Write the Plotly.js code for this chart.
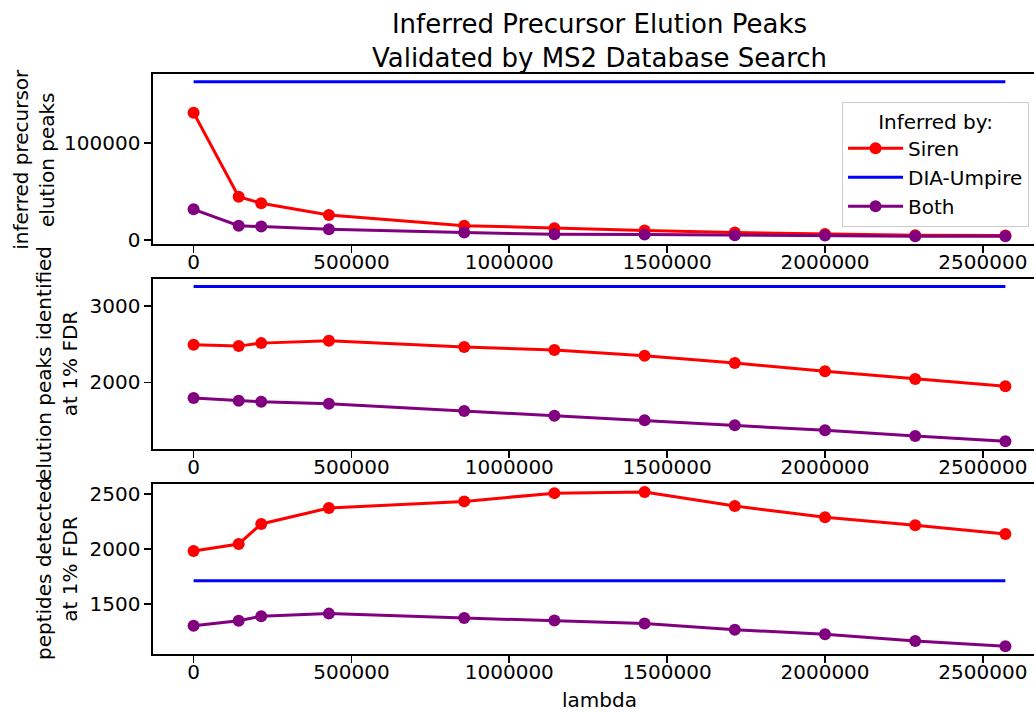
<!DOCTYPE html>
<html>
<head>
<meta charset="utf-8">
<script src="https://cdn.plot.ly/plotly-3.0.1.min.js"></script>
<style>
html, body { margin: 0; padding: 0; overflow: hidden; background: #fff; }
#chart { width: 1048px; height: 712px; }
</style>
</head>
<body>
<div id="chart"></div>
<script>
// ---- data ----
const lambda = [0, 142857, 214286, 428571, 857143, 1142857, 1428571, 1714286, 2000000, 2285714, 2571429];

const sirenPeaks  = [131600, 44800, 37900, 25900, 14800, 12100, 9800, 7600, 6200, 4800, 4500];
const umpirePeaks = [163700, 163700, 163700, 163700, 163700, 163700, 163700, 163700, 163700, 163700, 163700];
const bothPeaks   = [31700, 14800, 13800, 11000, 7600, 5900, 5500, 4800, 4500, 3800, 3800];

const sirenIdentified  = [2492, 2474, 2513, 2544, 2461, 2422, 2348, 2253, 2144, 2044, 1948];
const umpireIdentified = [3252, 3252, 3252, 3252, 3252, 3252, 3252, 3252, 3252, 3252, 3252];
const bothIdentified   = [1795, 1760, 1747, 1721, 1625, 1564, 1503, 1438, 1373, 1299, 1229];

const sirenPeptides  = [1982, 2045, 2227, 2372, 2432, 2507, 2518, 2390, 2287, 2215, 2136];
const umpirePeptides = [1710, 1710, 1710, 1710, 1710, 1710, 1710, 1710, 1710, 1710, 1710];
const bothPeptides   = [1302, 1347, 1388, 1412, 1372, 1350, 1322, 1266, 1224, 1164, 1115];

const seriesNames = ['Siren', 'DIA-Umpire', 'Both'];
const yLabels = ['inferred precursor<br>elution peaks', 'elution peaks identified<br>at 1% FDR', 'peptides detected<br>at 1% FDR'];
const chartTitle = 'Inferred Precursor Elution Peaks<br>Validated by MS2 Database Search';
const xLabel = 'lambda';

// ---- styling ----
const colors = { Siren: '#ff0000', 'DIA-Umpire': '#0000ff', Both: '#800080' };
const font = { family: 'DejaVu Sans, sans-serif', size: 20, color: '#000' };

const panels = [
  { s: sirenPeaks, u: umpirePeaks, b: bothPeaks, xa: 'x', ya: 'y' },
  { s: sirenIdentified, u: umpireIdentified, b: bothIdentified, xa: 'x2', ya: 'y2' },
  { s: sirenPeptides, u: umpirePeptides, b: bothPeptides, xa: 'x3', ya: 'y3' }
];

const traces = [];
panels.forEach((p, i) => {
  const first = i === 0;
  traces.push({ x: lambda, y: p.s, name: seriesNames[0], type: 'scatter', mode: 'lines+markers',
    line: { color: colors.Siren, width: 3 }, marker: { color: colors.Siren, size: 12 },
    xaxis: p.xa, yaxis: p.ya, showlegend: first, legendgroup: 'siren' });
  traces.push({ x: lambda, y: p.u, name: seriesNames[1], type: 'scatter', mode: 'lines',
    line: { color: colors['DIA-Umpire'], width: 3 },
    xaxis: p.xa, yaxis: p.ya, showlegend: first, legendgroup: 'umpire' });
  traces.push({ x: lambda, y: p.b, name: seriesNames[2], type: 'scatter', mode: 'lines+markers',
    line: { color: colors.Both, width: 3 }, marker: { color: colors.Both, size: 12 },
    xaxis: p.xa, yaxis: p.ya, showlegend: first, legendgroup: 'both' });
});

const axBase = {
  showgrid: false, zeroline: false, showline: true, linecolor: '#000', linewidth: 1.6,
  mirror: true, ticks: 'outside', ticklen: 7, tickwidth: 1.6, tickcolor: '#000',
  tickfont: font, tickformat: 'd'
};
const xBase = Object.assign({}, axBase, { ticklabelstandoff: -8 });
const xRange = [-128571, 2700000];

const domains = [[0.7069, 1], [0.3534, 0.6466], [0, 0.2931]];

const layout = {
  width: 1048, height: 712,
  margin: { l: 153, r: 2, t: 74, b: 58 },
  paper_bgcolor: '#fff', plot_bgcolor: '#fff',
  font: font,
  title: { text: chartTitle, font: { family: font.family, size: 26, color: '#000' },
           x: 0.5, xref: 'paper', xanchor: 'center', y: 0.9537, yref: 'container', yanchor: 'top' },
  showlegend: true,
  legend: {
    x: 0.7716, y: 0.9522, xanchor: 'left', yanchor: 'top',
    bgcolor: 'rgba(255,255,255,0.85)', bordercolor: '#cccccc', borderwidth: 1,
    font: font, title: { text: 'Inferred by:', side: 'top center', font: font },
    itemwidth: 55, tracegroupgap: 0
  },
  xaxis:  Object.assign({}, xBase, { range: xRange, dtick: 500000, tick0: 0, anchor: 'y',  domain: [0, 1] }),
  xaxis2: Object.assign({}, xBase, { range: xRange, dtick: 500000, tick0: 0, anchor: 'y2', domain: [0, 1] }),
  xaxis3: Object.assign({}, xBase, { range: xRange, dtick: 500000, tick0: 0, anchor: 'y3', domain: [0, 1] }),
  yaxis:  Object.assign({}, axBase, { range: [-4200, 171700], dtick: 100000, tick0: 0, anchor: 'x',  domain: domains[0] }),
  yaxis2: Object.assign({}, axBase, { range: [1128, 3352], dtick: 1000, tick0: 0, anchor: 'x2', domain: domains[1] }),
  yaxis3: Object.assign({}, axBase, { range: [1045, 2590], dtick: 500, tick0: 0, anchor: 'x3', domain: domains[2] }),
  annotations: [
    { text: yLabels[0], xref: 'paper', yref: 'paper', x: -0.1335, y: 0.8534, xanchor: 'center', yanchor: 'middle',
      textangle: -90, showarrow: false, font: font },
    { text: yLabels[1], xref: 'paper', yref: 'paper', x: -0.1075, y: 0.5, xanchor: 'center', yanchor: 'middle',
      textangle: -90, showarrow: false, font: font },
    { text: yLabels[2], xref: 'paper', yref: 'paper', x: -0.1075, y: 0.1466, xanchor: 'center', yanchor: 'middle',
      textangle: -90, showarrow: false, font: font },
    { text: xLabel, xref: 'paper', yref: 'paper', x: 0.5, y: -0.0793, xanchor: 'center', yanchor: 'middle',
      showarrow: false, font: font }
  ]
};

Plotly.newPlot('chart', traces, layout, { displayModeBar: false, staticPlot: true });
</script>
</body>
</html>
